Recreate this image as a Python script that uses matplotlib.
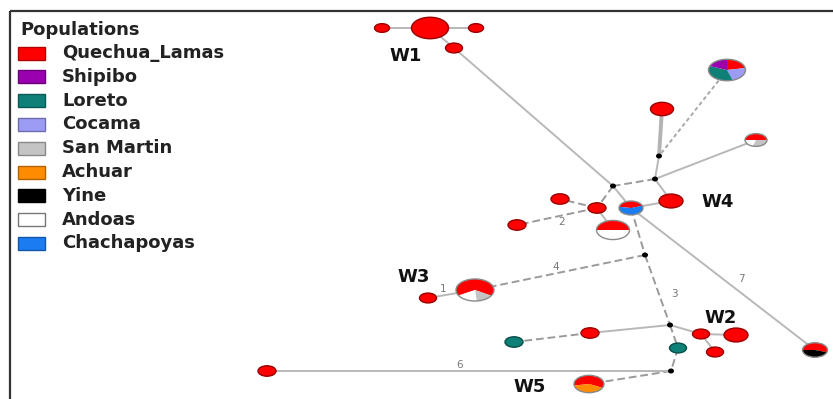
import matplotlib
matplotlib.use("Agg")
import matplotlib.pyplot as plt
from matplotlib.patches import Wedge, Ellipse, Rectangle
from matplotlib.transforms import Affine2D
import matplotlib.colors as mcolors

# ---- populations / legend ----
populations = ["Quechua_Lamas", "Shipibo", "Loreto", "Cocama", "San Martin",
               "Achuar", "Yine", "Andoas", "Chachapoyas"]
pop_colors = ["#ff0000", "#9a00b0", "#0e8078", "#9c9cf5", "#c4c4c4",
              "#ff8c00", "#000000", "#ffffff", "#1a7cf0"]
pc = dict(zip(populations, pop_colors))

# ---- haplotype nodes (pixel positions, width) ----
node_x = [430, 382, 476, 454, 727, 662, 756, 671, 631, 560, 597, 613, 517,
          475, 428, 590, 514, 701, 736, 715, 678, 589, 815, 267]
node_y = [28, 28, 28, 48, 70, 109, 140, 201, 208, 199, 208, 230, 225,
          290, 298, 333, 342, 334, 335, 352, 348, 384, 350, 371]
node_w = [37, 15, 15, 17, 37, 23, 22, 24, 24, 18, 18, 33, 18,
          38, 17, 18, 18, 17, 24, 17, 17, 30, 25, 18]
# composition: (population, fraction), drawn clockwise from start angle
node_comp = [
    [("Quechua_Lamas", 1.0)],
    [("Quechua_Lamas", 1.0)],
    [("Quechua_Lamas", 1.0)],
    [("Quechua_Lamas", 1.0)],
    [("Quechua_Lamas", 0.22), ("Cocama", 0.23), ("Loreto", 0.36), ("Shipibo", 0.19)],
    [("Quechua_Lamas", 1.0)],
    [("Quechua_Lamas", 0.5), ("San Martin", 0.3), ("Andoas", 0.2)],
    [("Quechua_Lamas", 1.0)],
    [("Quechua_Lamas", 0.42), ("Chachapoyas", 0.58)],
    [("Quechua_Lamas", 1.0)],
    [("Quechua_Lamas", 1.0)],
    [("Quechua_Lamas", 0.5), ("Andoas", 0.5)],
    [("Quechua_Lamas", 1.0)],
    [("Quechua_Lamas", 0.67), ("San Martin", 0.15), ("Andoas", 0.18)],
    [("Quechua_Lamas", 1.0)],
    [("Quechua_Lamas", 1.0)],
    [("Loreto", 1.0)],
    [("Quechua_Lamas", 1.0)],
    [("Quechua_Lamas", 1.0)],
    [("Quechua_Lamas", 1.0)],
    [("Loreto", 1.0)],
    [("Quechua_Lamas", 0.6), ("Achuar", 0.4)],
    [("Quechua_Lamas", 0.55), ("Yine", 0.45)],
    [("Quechua_Lamas", 1.0)],
]
# start angle, degrees clockwise from 9 o'clock
node_start = [0, 0, 0, 0, 90, 0, 0, 0, 10, 0, 0, 0, 0,
              -30, 0, 0, 0, 0, 0, 0, 0, -10, 0, 0]

# median vectors (black dots)
mv_x = [659, 655, 613, 645, 670, 671]
mv_y = [156, 179, 186, 255, 325, 371]

# edges: (kind_a, idx_a, kind_b, idx_b, style)
edges = [
    ("n", 0, "n", 1, "solid"), ("n", 0, "n", 2, "solid"), ("n", 0, "n", 3, "solid"),
    ("n", 3, "m", 2, "solid"),
    ("n", 4, "m", 0, "dotted"),
    ("n", 5, "m", 0, "thick"),
    ("m", 0, "m", 1, "solid"),
    ("m", 1, "n", 6, "solid"),
    ("m", 1, "m", 2, "dashed"),
    ("m", 1, "n", 7, "solid"),
    ("m", 2, "n", 10, "dashed"),
    ("m", 2, "n", 8, "solid"),
    ("n", 8, "n", 22, "solid"),
    ("n", 8, "n", 7, "solid"),
    ("n", 10, "n", 9, "dashed"),
    ("n", 10, "n", 12, "dashed"),
    ("n", 10, "n", 11, "solid"),
    ("n", 8, "m", 3, "dashed"),
    ("m", 3, "m", 4, "dashed"),
    ("m", 3, "n", 13, "dashed"),
    ("n", 13, "n", 14, "solid"),
    ("m", 4, "n", 15, "solid"),
    ("n", 15, "n", 16, "dashed"),
    ("m", 4, "n", 17, "solid"),
    ("n", 17, "n", 18, "solid"),
    ("n", 17, "n", 19, "solid"),
    ("m", 4, "n", 20, "dashed"),
    ("n", 20, "m", 5, "dashed"),
    ("m", 5, "n", 21, "dashed"),
    ("m", 5, "n", 23, "solid"),
]

# labels
w_labels = ["W1", "W2", "W3", "W4", "W5"]
w_lx = [406, 721, 414, 718, 530]
w_ly = [56, 318, 277, 202, 387]
step_labels = ["1", "2", "3", "4", "6", "7"]
step_lx = [443, 562, 674, 556, 460, 741]
step_ly = [289, 222, 294, 267, 365, 279]

ASPECT = 0.58

fig = plt.figure(figsize=(8.33, 3.99), dpi=100)
ax = fig.add_axes([0, 0, 1, 1])
ax.set_xlim(0, 833)
ax.set_ylim(399, 0)
ax.axis("off")

def pos(kind, i):
    if kind == "n":
        return node_x[i], node_y[i]
    return mv_x[i], mv_y[i]

styles = {
    "solid": dict(color="#b8b8b8", lw=1.4, ls="-"),
    "thick": dict(color="#b4b4b4", lw=2.8, ls="-"),
    "dashed": dict(color="#9a9a9a", lw=1.4, ls=(0, (4, 2))),
    "dotted": dict(color="#a8a8a8", lw=1.4, ls=(0, (2, 1.5))),
}
for ka, ia, kb, ib, st in edges:
    xa, ya = pos(ka, ia)
    xb, yb = pos(kb, ib)
    ax.plot([xa, xb], [ya, yb], zorder=1, solid_capstyle="butt", **styles[st])

def darker(c, f=0.6):
    r, g, b = mcolors.to_rgb(c)
    if (r, g, b) == (1.0, 1.0, 1.0):
        return "#777777"
    return (r * f, g * f, b * f)

for x, y, w, comp, st in zip(node_x, node_y, node_w, node_comp, node_start):
    r = w / 2.0
    tr = Affine2D().scale(1, ASPECT).translate(x, y) + ax.transData
    # visual 9 o'clock = data angle 180; clockwise visually = ccw in data (y inverted)
    a = 180 + st
    main = comp[0][0]
    for popn, f in comp:
        a2 = a + 360 * f
        ax.add_patch(Wedge((0, 0), r, a, a2, facecolor=pc[popn], edgecolor="none",
                           transform=tr, zorder=3))
        a = a2
    edge_c = "#8a8a8a" if len(comp) > 1 else darker(pc[main])
    ax.add_patch(Ellipse((0, 0), w, w, facecolor="none", edgecolor=edge_c, lw=1.0,
                         transform=tr, zorder=4))

for x, y in zip(mv_x, mv_y):
    ax.add_patch(Ellipse((x, y), 6, 5, facecolor="black", edgecolor="none", zorder=5))

for t, x, y in zip(w_labels, w_lx, w_ly):
    ax.text(x, y, t, fontsize=13, fontweight="bold", family="DejaVu Sans",
            ha="center", va="center", color="#111111", zorder=6)
for t, x, y in zip(step_labels, step_lx, step_ly):
    ax.text(x, y, t, fontsize=7.5, family="DejaVu Sans", ha="center", va="center",
            color="#777777", zorder=6)

# legend
ax.text(20, 30, "Populations", fontsize=13, fontweight="bold", family="DejaVu Sans",
        ha="left", va="center", color="#222222")
for k, (name, col) in enumerate(zip(populations, pop_colors)):
    yy = 53 + k * 23.8
    ax.add_patch(Rectangle((18, yy - 6.5), 27, 13, facecolor=col,
                           edgecolor="#777777" if col == "#ffffff" else darker(col, 0.7),
                           lw=1.0, zorder=3))
    ax.text(62, yy, name, fontsize=13, fontweight="bold", family="DejaVu Sans",
            ha="left", va="center", color="#222222")

# frame
ax.plot([10, 833], [11, 11], color="#333333", lw=1.6, zorder=7, solid_capstyle="butt")
ax.plot([10, 10], [11, 399], color="#333333", lw=1.6, zorder=7, solid_capstyle="butt")

fig.savefig("out.png", dpi=100)
